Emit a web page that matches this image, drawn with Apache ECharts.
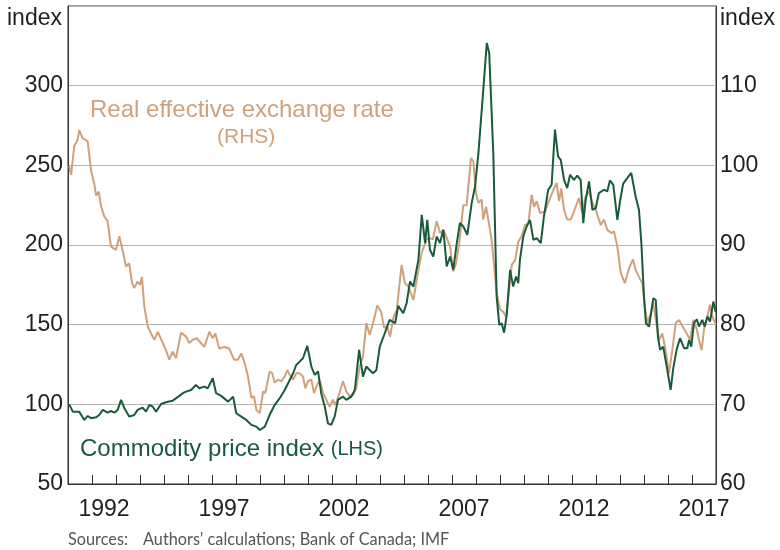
<!DOCTYPE html>
<html lang="en">
<head>
<meta charset="UTF-8">
<title>Commodity prices and the real exchange rate</title>
<script src="https://cdn.jsdelivr.net/npm/echarts@6/dist/echarts.min.js"></script>
<style>
    html, body { margin: 0; padding: 0; background: #fff; }
    #chart { width: 780px; height: 550px; }
</style>
</head>
<body>
<div id="chart"></div>
<script>
// categories on the visible axis (one per year, labels every 5th)
var years = [];
for (var y = 1991; y <= 2017; y++) years.push(String(y));

// commodity price index (LHS), decimal year / value
var commodityDates = [1991.05,1991.20,1991.47,1991.68,1991.82,1991.96,1992.17,1992.30,1992.45,1992.65,1992.79,1992.93,
    1993.07,1993.21,1993.35,1993.55,1993.76,1993.90,1994.11,1994.25,1994.39,1994.53,1994.67,1994.88,
    1995.08,1995.36,1995.64,1995.78,1995.92,1996.13,1996.33,1996.47,1996.68,1996.82,1997.03,1997.17,
    1997.38,1997.67,1997.88,1998.01,1998.22,1998.43,1998.64,1998.85,1998.99,1999.20,1999.40,1999.61,
    1999.82,2000.03,2000.24,2000.38,2000.51,2000.65,2000.79,2000.97,2001.14,2001.28,2001.42,2001.55,
    2001.70,2001.83,2001.97,2002.11,2002.25,2002.46,2002.60,2002.80,2002.95,2003.13,2003.29,2003.43,
    2003.57,2003.71,2003.85,2003.99,2004.20,2004.40,2004.63,2004.76,2004.97,2005.11,2005.25,2005.39,
    2005.60,2005.74,2005.88,2005.97,2006.08,2006.22,2006.36,2006.50,2006.64,2006.78,2006.92,2007.05,
    2007.20,2007.33,2007.47,2007.64,2007.82,2007.96,2008.10,2008.24,2008.45,2008.55,2008.72,2008.86,
    2008.97,2009.07,2009.17,2009.28,2009.42,2009.55,2009.67,2009.76,2009.83,2009.97,2010.11,2010.25,
    2010.39,2010.53,2010.70,2010.83,2011.01,2011.15,2011.29,2011.42,2011.53,2011.67,2011.80,2011.92,
    2012.08,2012.22,2012.36,2012.47,2012.57,2012.71,2012.85,2012.99,2013.12,2013.33,2013.47,2013.58,
    2013.72,2013.89,2014.00,2014.13,2014.30,2014.47,2014.65,2014.79,2014.89,2015.00,2015.08,2015.21,
    2015.39,2015.49,2015.58,2015.67,2015.80,2015.97,2016.11,2016.22,2016.36,2016.50,2016.67,2016.80,
    2016.88,2016.97,2017.08,2017.20,2017.29,2017.43,2017.53,2017.64,2017.75,2017.89,2017.99];
var commodityValues = [100,95.4,95.4,90.2,92.7,91.3,91.9,93.3,96.5,94.8,95.8,94.8,
    96.5,102.8,97.5,92.3,93.3,96.5,97.9,95.4,99.6,98.5,95.4,100.2,
    101.3,102.3,105.3,107,108,109,112.2,110.1,111.1,110,116.4,107,
    105.3,101.7,104.8,94.4,92.3,90.2,87.1,86,83.9,86,93.3,99.6,
    103.8,109,115.3,119.5,124.7,126.8,128.9,136.7,123.7,118.5,120.6,107,
    98.5,88.1,87.1,92.3,102.8,104.8,102.8,104.8,109,134.2,117.4,123.7,
    121.6,119.5,121.6,136.2,144.6,153,150.9,161.8,157.2,163.5,177.1,173.9,
    190.7,218.9,201.2,215.8,197,192.8,205.3,201.2,209.5,186.5,192.8,184.4,
    201.2,213.8,211.6,206.4,226.3,236.7,257.7,284.9,326.8,320.5,257.7,167.6,
    149.9,150.9,145,156.1,184.4,173.9,180.2,176,190.7,205.3,211.6,215.8,
    203.2,204.3,201.2,217.9,234.7,237.8,272.4,255.6,253.5,240.9,235.7,244.1,
    240.9,243.6,240.9,213.7,228.4,239.9,222.1,223.2,232.6,234.7,233.6,240.5,
    237.8,215.8,227.3,238.4,242,245.2,230.5,222.1,201.2,167.6,150.9,148.8,
    166.6,165.5,142.5,134.2,136.2,121.6,109,122.7,134.2,141.5,135.2,135.2,
    140.4,136.2,150.9,153.4,148.8,153,148.8,155.1,152,164.5,158];

// real effective exchange rate (RHS), decimal year / value
var reerDates = [1991.05,1991.13,1991.26,1991.40,1991.47,1991.61,1991.82,1991.96,1992.10,1992.17,1992.28,1992.38,
    1992.51,1992.65,1992.79,1993.00,1993.14,1993.21,1993.30,1993.42,1993.55,1993.67,1993.76,1993.90,
    1994.00,1994.08,1994.18,1994.32,1994.46,1994.60,1994.74,1994.95,1995.08,1995.22,1995.36,1995.50,
    1995.71,1995.92,1996.05,1996.20,1996.36,1996.54,1996.68,1996.89,1997.03,1997.14,1997.30,1997.51,
    1997.72,1997.80,1997.92,1998.08,1998.22,1998.36,1998.50,1998.64,1998.75,1998.85,1998.99,1999.13,
    1999.22,1999.40,1999.51,1999.61,1999.75,1999.89,2000.03,2000.14,2000.24,2000.38,2000.51,2000.65,
    2000.79,2000.89,2001.00,2001.14,2001.25,2001.35,2001.49,2001.63,2001.76,2001.90,2002.04,2002.14,
    2002.29,2002.46,2002.60,2002.74,2002.88,2003.01,2003.15,2003.29,2003.43,2003.57,2003.71,2003.89,
    2004.05,2004.17,2004.30,2004.42,2004.55,2004.70,2004.90,2005.04,2005.18,2005.39,2005.55,2005.74,
    2005.95,2006.05,2006.20,2006.36,2006.50,2006.64,2006.78,2006.92,2007.05,2007.17,2007.30,2007.47,
    2007.61,2007.79,2007.89,2008.00,2008.10,2008.24,2008.30,2008.42,2008.51,2008.65,2008.86,2009.00,
    2009.14,2009.25,2009.35,2009.49,2009.63,2009.76,2009.90,2010.04,2010.18,2010.32,2010.42,2010.53,
    2010.67,2010.88,2011.01,2011.22,2011.36,2011.46,2011.55,2011.67,2011.80,2011.95,2012.08,2012.29,
    2012.43,2012.57,2012.71,2012.85,2012.99,2013.20,2013.33,2013.47,2013.64,2013.75,2013.89,2014.03,
    2014.20,2014.38,2014.54,2014.65,2014.79,2014.93,2015.03,2015.14,2015.28,2015.38,2015.49,2015.63,
    2015.76,2015.90,2016.04,2016.18,2016.32,2016.46,2016.60,2016.78,2016.92,2017.05,2017.20,2017.29,
    2017.40,2017.50,2017.64,2017.75,2017.85,2017.99];
var reerValues = [99.9,98.8,102.4,103.2,104.4,103.4,103.0,99.4,97.6,96.2,96.7,94.8,
    93.6,93.0,89.8,89.4,91.1,91.3,89.0,87.3,87.7,85.2,84.6,85.4,
    85.0,86.0,82.3,79.8,78.9,78.1,79.1,77.7,76.8,75.6,76.6,75.8,
    79.0,78.5,77.7,78.1,78.3,77.7,77.2,79.1,78.3,78.9,77.0,77.2,
    77.0,76.8,75.6,75.6,76.4,75.2,73.5,70.8,71.0,69.3,68.9,71.6,
    71.4,74.1,73.9,72.7,73.1,72.9,73.5,74.3,73.7,73.1,73.9,73.9,
    73.5,72.0,72.9,73.1,71.4,72.2,73.1,71.4,70.6,69.7,70.6,69.9,
    71.2,72.9,71.6,71.0,71.2,72.0,74.7,76.0,80.2,78.7,80.2,82.4,
    81.6,79.6,79.8,78.5,80.8,81.9,87.5,85.2,84.8,83.1,86.0,89.1,
    90.7,90.9,90.7,93.0,91.5,91.9,90.9,89.8,86.7,87.7,90.2,95.0,
    95.0,100.9,100.5,96.5,95.3,95.7,93.2,94.8,93.2,90.7,84.0,81.9,
    81.6,81.0,83.5,87.5,88.1,90.4,91.1,92.5,92.7,96.3,94.8,95.5,
    94.0,94.2,95.3,96.9,97.8,95.5,97.1,94.4,93.2,93.2,94.2,95.9,
    94.0,96.1,96.7,95.3,94.4,92.5,93.2,91.9,91.5,91.7,89.8,86.5,
    85.2,87.1,88.2,86.9,86.0,85.2,82.3,80.2,81.4,82.9,80.6,78.1,
    78.9,76.8,73.9,76.8,80.2,80.6,79.8,78.9,78.1,80.6,79.4,78.1,
    76.8,79.4,81.0,82.5,81.0,80.0];

var leftTicks = [50, 350, 50];   // min, max, step
var rightTicks = [60, 120, 10];

var green = '#1a5a3c';
var tan = '#cfa27b';
var ink = '#231f20';
var font = '"Liberation Sans", Arial, sans-serif';

function zip(xs, vs) {
    var out = [];
    for (var i = 0; i < xs.length; i++) out.push([xs[i], vs[i]]);
    return out;
}

var myChart = echarts.init(document.getElementById('chart'));

var option = {
    animation: false,
    grid: {
        left: 68, right: 64, top: 6, bottom: 66,
        show: true, borderColor: '#333', borderWidth: 1
    },
    xAxis: [{
        type: 'category',
        data: years,
        boundaryGap: true,
        axisLine: { lineStyle: { color: '#333', width: 1 } },
        axisTick: { show: true, inside: true, length: 9, interval: 0, lineStyle: { color: '#333' } },
        axisLabel: {
            interval: function (index) { return (index - 1) % 5 === 0; },
            color: ink, fontSize: 23, fontFamily: font, margin: 14
        },
        splitLine: { show: false }
    }, {
        type: 'value',
        min: 1991,
        max: 2018,
        show: false
    }],
    yAxis: [{
        type: 'value',
        position: 'left',
        min: leftTicks[0], max: leftTicks[1], interval: leftTicks[2],
        axisLine: { show: true, lineStyle: { color: '#333', width: 1 } },
        axisTick: { show: false },
        axisLabel: {
            color: ink, fontSize: 23, fontFamily: font, margin: 5,
            formatter: function (v) { return v === 350 ? '' : v; }
        },
        splitLine: { show: true, lineStyle: { color: '#b3b3b3', width: 1 } }
    }, {
        type: 'value',
        position: 'right',
        min: rightTicks[0], max: rightTicks[1], interval: rightTicks[2],
        axisLine: { show: true, lineStyle: { color: '#333', width: 1 } },
        axisTick: { show: false },
        axisLabel: {
            color: ink, fontSize: 23, fontFamily: font, margin: 4,
            formatter: function (v) { return v === 120 ? '' : v; }
        },
        splitLine: { show: false }
    }],
    graphic: [
        { type: 'text', left: 7, top: 7, style: { text: 'index', font: '23px ' + font, fill: ink } },
        { type: 'text', left: 720, top: 7, style: { text: 'index', font: '23px ' + font, fill: ink } },
        {
            type: 'text', left: 90, top: 98,
            style: { text: 'Real effective exchange rate', font: '24px ' + font, fill: tan }
        },
        {
            type: 'text', left: 217, top: 127,
            style: { text: '(RHS)', font: '21px ' + font, fill: tan }
        },
        {
            type: 'text', left: 80, top: 437,
            style: {
                text: 'Commodity price index {s|(LHS)}',
                font: '24px ' + font, fill: green,
                rich: { s: { fontSize: 20, fontFamily: font, fill: green, color: green } }
            }
        },
        {
            type: 'text', left: 68, top: 532,
            style: { text: 'Sources:', font: '16.3px Lato, sans-serif', fill: '#555' }
        },
        {
            type: 'text', left: 143, top: 532,
            style: { text: 'Authors\u2019 calculations; Bank of Canada; IMF', font: '16.3px Lato, sans-serif', fill: '#555' }
        }
    ],
    series: [{
        name: 'Real effective exchange rate',
        type: 'line',
        xAxisIndex: 1,
        yAxisIndex: 1,
        data: zip(reerDates, reerValues),
        showSymbol: false,
        lineStyle: { color: tan, width: 2 },
        itemStyle: { color: tan }
    }, {
        name: 'Commodity price index',
        type: 'line',
        xAxisIndex: 1,
        yAxisIndex: 0,
        data: zip(commodityDates, commodityValues),
        showSymbol: false,
        lineStyle: { color: green, width: 2 },
        itemStyle: { color: green }
    }]
};

myChart.setOption(option);
</script>
</body>
</html>
